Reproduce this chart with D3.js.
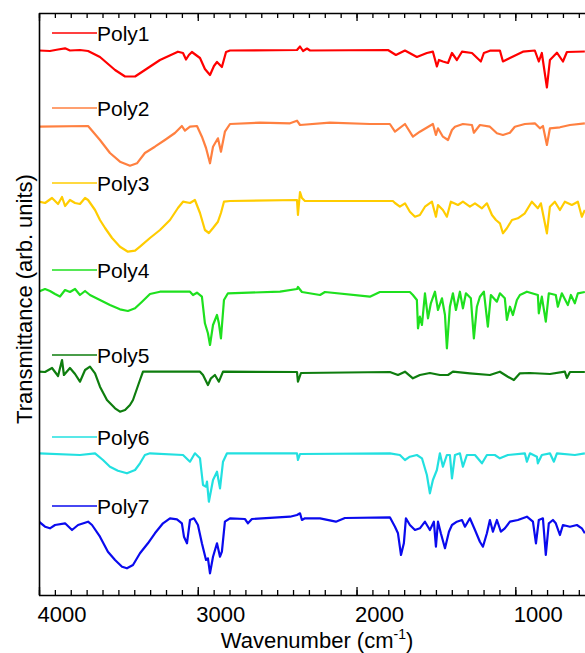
<!DOCTYPE html>
<html>
<head>
<meta charset="utf-8">
<script src="https://cdn.jsdelivr.net/npm/d3@7"></script>
<style>
  html, body { margin: 0; padding: 0; background: #fff; }
  svg { display: block; }
  text { font-family: "Liberation Sans", Arial, sans-serif; fill: #000; }
</style>
</head>
<body>
<svg id="chart" width="585" height="653"></svg>
<script>
// ---------------- DATA ----------------
const seriesNames = ["Poly1", "Poly2", "Poly3", "Poly4", "Poly5", "Poly6", "Poly7"];
const seriesColors = ["#ff0000", "#ff8040", "#ffcc00", "#1ee01e", "#0e7d0e", "#22e0e0", "#0a0aee"];
// vertical offset of each spectrum (arb. units)
const seriesOffsets = [54.45, 46.9, 39.4, 30.35, 22.3, 14.15, 7.5];

const xTicksMajor = [4000, 3000, 2000, 1000];
const xTicksMinor = d3.range(4000, 599, -100);

// [wavenumber (cm-1), relative transmittance (arb. units)]
const poly1 = [[4000,0],[3931,-0.05],[3880,0.1],[3836,0.22],[3805,0],[3742,0.05],[3691,-0.05],[3616,-0.65],[3521,-1.95],[3458,-2.6],[3395,-2.6],[3333,-1.95],[3238,-0.95],[3125,-0.12],[3093,-0.25],[3074,-0.9],[3056,-0.45],[3037,-0.15],[2986,-0.75],[2955,-1.85],[2923,-2.45],[2898,-1.55],[2879,-1.15],[2848,-1.65],[2822,-0.15],[2797,0],[2375,0.05],[2356,0.4],[2337,-0.05],[2312,0.2],[2293,0],[1802,0.05],[1752,-0.45],[1695,0],[1620,-0.65],[1557,-0.25],[1519,-0.12],[1494,-1.6],[1481,-0.95],[1456,-1.1],[1424,-1.25],[1399,-0.25],[1368,-0.95],[1336,-0.12],[1273,-0.25],[1217,-1.1],[1198,-0.25],[1160,-0.02],[1097,0],[1078,-1.1],[1034,-0.75],[952,-0.12],[877,0],[852,-1.1],[833,-0.25],[801,-3.7],[782,-0.95],[738,-0.22],[700,-1.1],[675,-0.15],[562,-0.1]];

const poly2 = [[4000,-0.07],[3691,0],[3616,-1.4],[3553,-2.7],[3490,-3.57],[3427,-3.97],[3383,-3.73],[3333,-2.7],[3270,-2.07],[3207,-1.4],[3144,-0.7],[3100,0],[3081,-0.47],[3049,-0.07],[3005,0],[2974,-1.07],[2948,-2.2],[2923,-3.73],[2904,-2.07],[2873,-1.23],[2854,-2.57],[2829,-0.57],[2797,0.2],[2608,0.33],[2419,0.27],[2375,0.53],[2356,0.1],[2168,0.33],[1916,0.2],[1790,0.2],[1758,-0.57],[1695,0.2],[1645,-1.07],[1601,-0.57],[1519,0.2],[1500,-0.9],[1487,-0.23],[1456,-1.07],[1424,-1.4],[1399,-0.4],[1380,-0.07],[1330,0.2],[1273,0.1],[1261,-0.67],[1223,0.1],[1160,-0.07],[1116,-0.73],[1078,-0.9],[1034,-0.67],[1003,-0.07],[940,0.2],[877,0.27],[845,-0.23],[826,0],[801,-1.9],[782,-0.23],[719,-0.13],[656,0.1],[562,0.27]];

const poly3 = [[4000,-0.07],[3962,-0.2],[3918,0.3],[3880,-0.3],[3855,0.4],[3836,-0.5],[3805,0.1],[3773,-0.2],[3742,-0.3],[3710,0.3],[3691,0.1],[3647,-0.9],[3616,-1.9],[3584,-2.7],[3540,-3.7],[3490,-4.57],[3440,-5.07],[3395,-4.97],[3364,-4.57],[3301,-3.7],[3238,-2.9],[3175,-1.9],[3125,-0.7],[3093,-0.07],[3049,-0.2],[3018,0.1],[2986,-1.2],[2955,-2.9],[2930,-3.2],[2904,-2.7],[2873,-2.07],[2854,-1.2],[2835,-0.07],[2797,0],[2375,0.1],[2369,-1.4],[2356,0.9],[2344,0.3],[2325,0],[1771,0],[1758,-0.2],[1727,-0.57],[1695,-0.23],[1664,-1.07],[1632,-1.57],[1601,-1.4],[1569,-0.57],[1525,-0.07],[1500,-1.57],[1487,-0.4],[1456,-0.9],[1431,-1.57],[1406,-0.07],[1361,-0.4],[1330,-0.07],[1286,-0.57],[1254,-0.23],[1210,-0.73],[1179,-0.23],[1147,-1.4],[1122,-1.9],[1097,-2.23],[1078,-3.23],[1053,-2.73],[1021,-1.9],[984,-1.73],[940,-1.23],[896,-0.07],[858,-0.73],[839,-0.23],[801,-3.23],[782,-0.57],[751,-0.07],[719,-0.9],[688,-0.07],[644,-0.4],[606,-0.07],[581,-1.57],[562,-0.9]];

const poly4 = [[4000,0],[3962,0.25],[3931,0.05],[3899,-0.25],[3868,-0.5],[3836,0.15],[3805,-0.05],[3773,0.25],[3742,-0.35],[3710,0.05],[3679,-0.35],[3616,-0.85],[3553,-1.35],[3490,-1.78],[3440,-1.95],[3395,-1.68],[3351,-1.02],[3301,-0.25],[3238,-0.02],[3049,-0.02],[3030,-0.35],[3005,-0.12],[2974,-0.52],[2955,-3.18],[2936,-4.18],[2923,-5.35],[2904,-3.35],[2879,-2.35],[2867,-3.18],[2854,-4.68],[2835,-0.85],[2810,-0.18],[2482,-0.02],[2375,0.25],[2369,0.45],[2344,-0.05],[2230,-0.35],[2199,-0.05],[1916,-0.52],[1853,-0.05],[1664,-0.05],[1645,-0.35],[1620,-0.85],[1613,-3.68],[1601,-2.52],[1588,-3.35],[1569,-0.18],[1550,-2.68],[1532,-1.18],[1506,-0.02],[1487,-1.85],[1462,-0.68],[1443,-2.35],[1431,-5.68],[1412,-1.52],[1393,-0.18],[1374,-1.85],[1349,-0.02],[1330,-1.68],[1311,-0.18],[1280,-0.68],[1261,-4.68],[1242,-1.52],[1223,-0.52],[1198,-0.02],[1173,-3.52],[1154,-0.35],[1116,-1.02],[1097,-0.18],[1066,-0.68],[1053,-2.85],[1034,-1.52],[1015,-2.35],[990,-0.85],[971,-0.35],[927,-0.02],[858,-0.35],[852,-2.18],[833,-0.52],[808,-3.02],[789,-0.18],[745,-0.35],[732,-1.52],[707,-0.18],[669,-1.35],[650,-0.35],[625,-1.18],[606,-0.18],[562,-0.05]];

const poly5 = [[4000,0.03],[3962,0],[3918,0.4],[3880,-0.4],[3855,1.2],[3843,-0.3],[3805,0.4],[3773,-0.2],[3742,-0.97],[3710,0.2],[3679,0.53],[3647,-0.13],[3616,-1.47],[3572,-2.8],[3521,-3.63],[3490,-3.97],[3458,-3.8],[3427,-3.3],[3408,-2.8],[3364,-0.8],[3345,0.03],[3238,0.03],[2986,0.03],[2967,-0.3],[2936,-1.3],[2917,-0.63],[2892,-0.3],[2867,-0.97],[2841,0.03],[2375,0],[2369,-0.97],[2350,-0.1],[1790,0],[1739,-0.3],[1695,0.03],[1645,-0.63],[1601,-0.3],[1538,-0.1],[1475,-0.3],[1424,-0.3],[1393,0.03],[1286,-0.13],[1160,-0.3],[1097,0.03],[1047,-0.47],[1009,-0.8],[971,-0.13],[908,-0.1],[782,-0.2],[688,0.03],[675,-0.6],[656,0],[562,0]];

const poly6 = [[4000,0.02],[3742,-0.15],[3647,0.02],[3597,-0.65],[3553,-1.32],[3503,-1.72],[3446,-1.98],[3395,-1.65],[3364,-0.98],[3333,-0.15],[3301,0.02],[3093,-0.15],[3049,-0.82],[3018,0.02],[2986,-0.48],[2967,-3.15],[2948,-3.32],[2942,-2.82],[2930,-4.82],[2904,-2.65],[2879,-1.82],[2860,-3.48],[2841,-0.82],[2816,0.02],[2375,0.02],[2369,-0.65],[2356,-0.05],[1790,0.02],[1727,-0.15],[1695,-0.65],[1664,-0.32],[1620,-0.15],[1588,-0.48],[1557,-2.15],[1538,-3.98],[1519,-2.65],[1494,-1.65],[1475,0.02],[1456,-1.32],[1431,-0.15],[1412,-0.15],[1399,-2.48],[1380,-0.15],[1349,0.02],[1330,-1.32],[1305,-0.15],[1254,-0.15],[1210,-0.98],[1179,-0.15],[1129,-0.15],[1097,-0.48],[1047,-0.15],[940,0.02],[927,-0.82],[908,0.02],[864,-0.32],[858,-0.98],[833,-0.15],[782,0.02],[757,-0.82],[738,0.02],[625,-0.15],[562,0.02]];

const poly7 = [[4000,-0.17],[3962,-0.67],[3931,-0.83],[3899,-0.5],[3836,-0.33],[3792,-1.0],[3754,-0.5],[3691,-0.17],[3666,-0.5],[3616,-1.67],[3566,-3.17],[3521,-4.0],[3477,-4.67],[3446,-4.83],[3408,-4.5],[3364,-3.33],[3314,-2.33],[3270,-1.33],[3219,-0.33],[3175,0.17],[3131,0.07],[3100,-0.33],[3087,-1.67],[3068,-2.33],[3049,0],[3024,0.17],[2999,-0.5],[2974,-2.33],[2948,-4.0],[2936,-3.83],[2923,-5.33],[2904,-3.67],[2879,-2.33],[2860,-3.67],[2848,-3.17],[2829,-0.17],[2797,0.17],[2703,0.1],[2684,-0.33],[2659,0.1],[2419,0.33],[2375,0.5],[2356,0.67],[2344,0],[2325,0.17],[2230,0.17],[2130,-0.17],[2073,0.2],[1790,0.27],[1758,-0.67],[1739,-1.33],[1720,-3.5],[1702,-2.33],[1689,0.17],[1664,-0.5],[1632,-1.0],[1601,-0.83],[1569,-0.17],[1538,-1.0],[1513,-0.17],[1500,-2.67],[1487,-0.17],[1469,-1.33],[1443,-2.83],[1418,-1.17],[1399,-0.5],[1368,-0.17],[1336,0],[1317,-0.67],[1286,0.17],[1254,-1.0],[1223,-2.17],[1204,-2.67],[1179,-1.33],[1160,0],[1141,-1.17],[1116,0],[1091,-1.17],[1066,-0.83],[1034,-0.17],[984,0],[927,0.33],[889,-0.17],[870,-2.33],[852,0],[826,0.17],[808,-3.5],[789,-0.33],[763,0],[745,-0.33],[719,-1.5],[700,-0.5],[656,-0.67],[612,-0.5],[581,-0.83],[562,-1.33]];

const seriesData = [poly1, poly2, poly3, poly4, poly5, poly6, poly7];

// ---------------- LAYOUT ----------------
const plot = { left: 39, right: 585, top: 13, bottom: 595 };
const legendRise = [1.75, 1.8, 1.8, 2.15, 1.7, 1.65, 1.4]; // legend line height above trace baseline (units)

const svg = d3.select("#chart");

// 1000 cm-1 spans ~158.8 px; plot is cropped on the right
const x = d3.scaleLinear()
  .domain([4000, 400])
  .range([plot.left, plot.left + 3600 * 0.15877]);
const y = d3.scaleLinear()
  .domain([0, 58.2])
  .range([plot.bottom, plot.top]);

svg.append("defs").append("clipPath").attr("id", "clip")
  .append("rect")
  .attr("x", plot.left).attr("y", plot.top)
  .attr("width", plot.right - plot.left).attr("height", plot.bottom - plot.top);

// traces
const gTraces = svg.append("g").attr("clip-path", "url(#clip)");
seriesData.forEach((data, i) => {
  const line = d3.line()
    .x(d => x(d[0]))
    .y(d => y(d[1] + seriesOffsets[i]));
  gTraces.append("path")
    .datum(data)
    .attr("d", line)
    .attr("fill", "none")
    .attr("stroke", seriesColors[i])
    .attr("stroke-width", 2.2)
    .attr("stroke-linejoin", "round");
});

// axes
function styleAxis(g) {
  g.selectAll("path.domain").attr("stroke", "#000").attr("stroke-width", 1.6);
  g.selectAll(".tick line").attr("stroke", "#000").attr("stroke-width", 1.3);
}
// bottom minor
svg.append("g")
  .attr("transform", `translate(0,${plot.bottom})`)
  .call(d3.axisBottom(x).tickValues(xTicksMinor).tickSize(-5).tickSizeOuter(0).tickFormat(""))
  .call(styleAxis)
  .call(g => g.select("path.domain").remove());
// bottom major
const bottomAxis = svg.append("g")
  .attr("transform", `translate(0,${plot.bottom})`)
  .call(d3.axisBottom(x).tickValues(xTicksMajor).tickSize(-8).tickSizeOuter(0).tickFormat(d3.format("d")))
  .call(styleAxis);
bottomAxis.select("path.domain").attr("d", `M${plot.left},0.5H${plot.right}`);
bottomAxis.selectAll(".tick text")
  .attr("text-anchor", "start")
  .attr("x", -2)
  .attr("y", 27)
  .attr("dy", null)
  .style("font-family", '"Liberation Sans", Arial, sans-serif')
  .style("font-size", "22px")
  .attr("fill", "#000");

// top minor + major
svg.append("g")
  .attr("transform", `translate(0,${plot.top})`)
  .call(d3.axisTop(x).tickValues(xTicksMinor).tickSize(-5).tickSizeOuter(0).tickFormat(""))
  .call(styleAxis)
  .call(g => g.select("path.domain").remove());
const topAxis = svg.append("g")
  .attr("transform", `translate(0,${plot.top})`)
  .call(d3.axisTop(x).tickValues(xTicksMajor).tickSize(-8).tickSizeOuter(0).tickFormat(""))
  .call(styleAxis);
topAxis.select("path.domain").attr("d", `M${plot.left},0.5H${plot.right}`);

// left axis (no ticks)
svg.append("g")
  .attr("transform", `translate(${plot.left},0)`)
  .call(d3.axisLeft(y).tickValues([]).tickSizeOuter(0))
  .call(styleAxis);

// axis titles
svg.append("text")
  .attr("transform", `translate(32,299) rotate(-90)`)
  .attr("text-anchor", "middle")
  .style("font-size", "22px")
  .text("Transmittance (arb. units)");

const xt = svg.append("text")
  .attr("x", 317).attr("y", 648)
  .attr("text-anchor", "middle")
  .style("font-size", "22px");
xt.append("tspan").text("Wavenumber (cm");
xt.append("tspan").attr("dy", -9).style("font-size", "14px").text("-1");
xt.append("tspan").attr("dy", 9).text(")");

// legend entries near each trace
seriesNames.forEach((name, i) => {
  const ly = y(seriesOffsets[i] + legendRise[i]);
  svg.append("line")
    .attr("x1", 52).attr("x2", 97)
    .attr("y1", ly).attr("y2", ly)
    .attr("stroke", seriesColors[i])
    .attr("stroke-width", 1.6);
  svg.append("text")
    .attr("x", 97).attr("y", ly + 7.5)
    .style("font-size", "21px")
    .text(name);
});
</script>
</body>
</html>
